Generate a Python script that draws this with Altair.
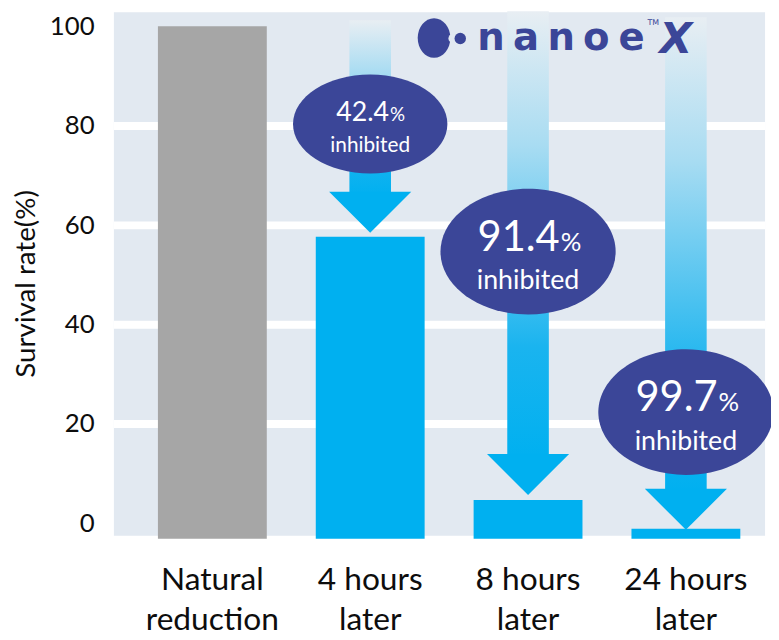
import altair as alt
import pandas as pd

# ---------------- data ----------------
categories = ["Natural\nreduction", "4 hours\nlater", "8 hours\nlater", "24 hours\nlater"]
bar_top = [100.1, 57.7, 4.7, -1.1]          # bar tops as drawn (survival rate %)
bar_base = -3.1                             # bars start slightly below the 0 line
y_ticks = [0, 20, 40, 60, 80, 100]
grid_values = [20, 40, 60, 80]

arrow_cats = categories[1:]
inhibited_pct = ["42.4", "91.4", "99.7"]
shaft_top = [101.3, 103.1, 101.9]
shaft_bottom = [65.8, 13.0, 5.9]
arrow_tip = [58.5, 5.7, -1.3]
bubble_center = [80.4, 54.7, 22.4]
bubble_group = ["small", "large", "large"]

logo_letters = ["n", "a", "n", "o", "e"]

# ---------------- styles ----------------
FONT = "Lato"
TXT = "#0d0d0d"
GRAY = "#a6a6a6"
BLUE = "#00b0f0"
NAVY = "#3b4698"
BG = "#e2e9f1"


def ellipse_path(ratio):
    k = 0.5523
    r = ratio
    return (f"M1,0C1,{k*r:.4f} {k:.4f},{r:.4f} 0,{r:.4f}"
            f"C{-k:.4f},{r:.4f} -1,{k*r:.4f} -1,0"
            f"C-1,{-k*r:.4f} {-k:.4f},{-r:.4f} 0,{-r:.4f}"
            f"C{k:.4f},{-r:.4f} 1,{-k*r:.4f} 1,0Z")


bubble_style = {
    "small": dict(w=156, h=100, num_fs=27, pct_fs=19, inh_fs=21, dx=19, num_dy=-3, inh_dy=28),
    "large": dict(w=177, h=127, num_fs=42, pct_fs=26, inh_fs=27, dx=32, num_dy=-1, inh_dy=38),
}

bars_df = pd.DataFrame({"cat": categories, "v": bar_top})
grid_df = pd.DataFrame({"g": grid_values})
arrow_df = pd.DataFrame({
    "cat": arrow_cats, "top": shaft_top, "bottom": shaft_bottom, "tip": arrow_tip,
    "yc": bubble_center, "pct": inhibited_pct, "group": bubble_group,
})
arrow_df["path"] = [ellipse_path(bubble_style[g]["h"] / bubble_style[g]["w"]) for g in bubble_group]
arrow_df["size"] = [bubble_style[g]["w"] ** 2 for g in bubble_group]

xscale = alt.Scale(domain=categories, paddingInner=0, paddingOuter=0.0627, align=0.9875)
yscale = alt.Scale(domain=[-2.5, 102.9], nice=False, zero=False)

x_axis = alt.Axis(
    title=None, labelExpr="split(datum.label, '\\n')", labelFontSize=32, labelFont=FONT,
    labelColor=TXT, labelPadding=54, labelBaseline="alphabetic", labelLineHeight=41,
    labelAngle=0, ticks=False, tickSize=0, domain=False, grid=False, labelLimit=300,
)
y_axis = alt.Axis(
    values=y_ticks, title="Survival rate(%)", titleFont=FONT, titleFontSize=28,
    titleFontWeight="normal", titleColor=TXT, titleX=-88, titleY=274, titleAngle=270,
    titleAlign="center", titleBaseline="middle", labelFont=FONT, labelFontSize=26,
    labelColor=TXT, labelPadding=20, ticks=False, tickSize=0, domain=False, grid=False,
)

X = alt.X("cat:N", scale=xscale, sort=categories, axis=x_axis)


def Y(field):
    return alt.Y(f"{field}:Q", scale=yscale, axis=y_axis)


grid = alt.Chart(grid_df).mark_rule(color="white", strokeWidth=8).encode(y=Y("g"))

bars = alt.Chart(bars_df).mark_bar(size=110).encode(
    x=X, y=Y("v"), y2=alt.datum(bar_base),
    color=alt.Color("cat:N", scale=alt.Scale(domain=categories, range=[GRAY, BLUE, BLUE, BLUE]), legend=None),
)

gradient = alt.Gradient(
    gradient="linear", x1=0, x2=0, y1=0, y2=1,
    stops=[
        alt.GradientStop(color="#e8eef3", offset=0),
        alt.GradientStop(color="#a8dcf2", offset=0.3),
        alt.GradientStop(color="#1ab4ef", offset=0.75),
        alt.GradientStop(color=BLUE, offset=1),
    ],
)
shafts = alt.Chart(arrow_df).mark_bar(size=42, color=gradient).encode(
    x=X, y=Y("top"), y2="bottom:Q"
)

heads = alt.Chart(arrow_df).mark_point(
    shape="M-1,-1L1,-1L0,0Z", size=83 ** 2, filled=True, opacity=1, color=BLUE, strokeWidth=0
).encode(x=X, y=Y("tip"))

bubbles = alt.Chart(arrow_df).mark_point(filled=True, opacity=1, color=NAVY, strokeWidth=0).encode(
    x=X, y=Y("yc"),
    shape=alt.Shape("path:N", scale=None),
    size=alt.Size("size:Q", scale=None),
)

text_layers = []
for g, st in bubble_style.items():
    base = alt.Chart(arrow_df).transform_filter(alt.datum.group == g)
    text_layers.append(base.mark_text(
        align="right", baseline="alphabetic", dx=st["dx"], dy=st["num_dy"],
        fontSize=st["num_fs"], font=FONT, color="white",
    ).encode(x=X, y=Y("yc"), text="pct:N"))
    text_layers.append(base.mark_text(
        align="left", baseline="alphabetic", dx=st["dx"] + 1, dy=st["num_dy"],
        fontSize=st["pct_fs"], font=FONT, color="white",
    ).encode(x=X, y=Y("yc"), text=alt.value("%")))
    text_layers.append(base.mark_text(
        align="center", baseline="alphabetic", dy=st["inh_dy"],
        fontSize=st["inh_fs"], font=FONT, color="white",
    ).encode(x=X, y=Y("yc"), text=alt.value("inhibited")))

# ---------------- logo ----------------
one = pd.DataFrame({"a": [0]})
logo_layers = [
    alt.Chart(one).mark_point(shape=ellipse_path(40 / 33), size=33 ** 2, filled=True, opacity=1,
                              color=NAVY, strokeWidth=0).encode(x=alt.value(323.5), y=alt.value(26)),
    alt.Chart(one).mark_point(shape="circle", size=80, filled=True, opacity=1,
                              color=BG, strokeWidth=0).encode(x=alt.value(342.5), y=alt.value(26.5)),
    alt.Chart(one).mark_point(shape="circle", size=133, filled=True, opacity=1,
                              color=NAVY, strokeWidth=0).encode(x=alt.value(350), y=alt.value(26.5)),
]
for i, ch in enumerate(logo_letters):
    logo_layers.append(alt.Chart(one).mark_text(
        text=ch, font="DejaVu Sans", fontWeight="bold", fontSize=39, color=NAVY,
        align="center", baseline="alphabetic",
    ).encode(x=alt.value(381 + i * 35.5), y=alt.value(38.5)))
logo_layers.append(alt.Chart(one).mark_text(
    text="X", font="DejaVu Sans", fontWeight="bold", fontStyle="italic", fontSize=43, color=NAVY,
    align="center", baseline="alphabetic",
).encode(x=alt.value(568), y=alt.value(41)))
logo_layers.append(alt.Chart(one).mark_text(
    text="TM", font="DejaVu Sans", fontSize=8, color=NAVY, align="center", baseline="alphabetic",
).encode(x=alt.value(545), y=alt.value(13)))

chart = alt.layer(grid, bars, shafts, heads, bubbles, *text_layers, *logo_layers).properties(
    width=658, height=529,
    autosize=alt.AutoSizeParams(type="none"),
    padding={"left": 107, "top": 1, "right": 6, "bottom": 101},
    background="white",
).configure_view(fill=BG, strokeWidth=0)

chart.save("out.html", embed_options={"renderer": "svg", "actions": False})
